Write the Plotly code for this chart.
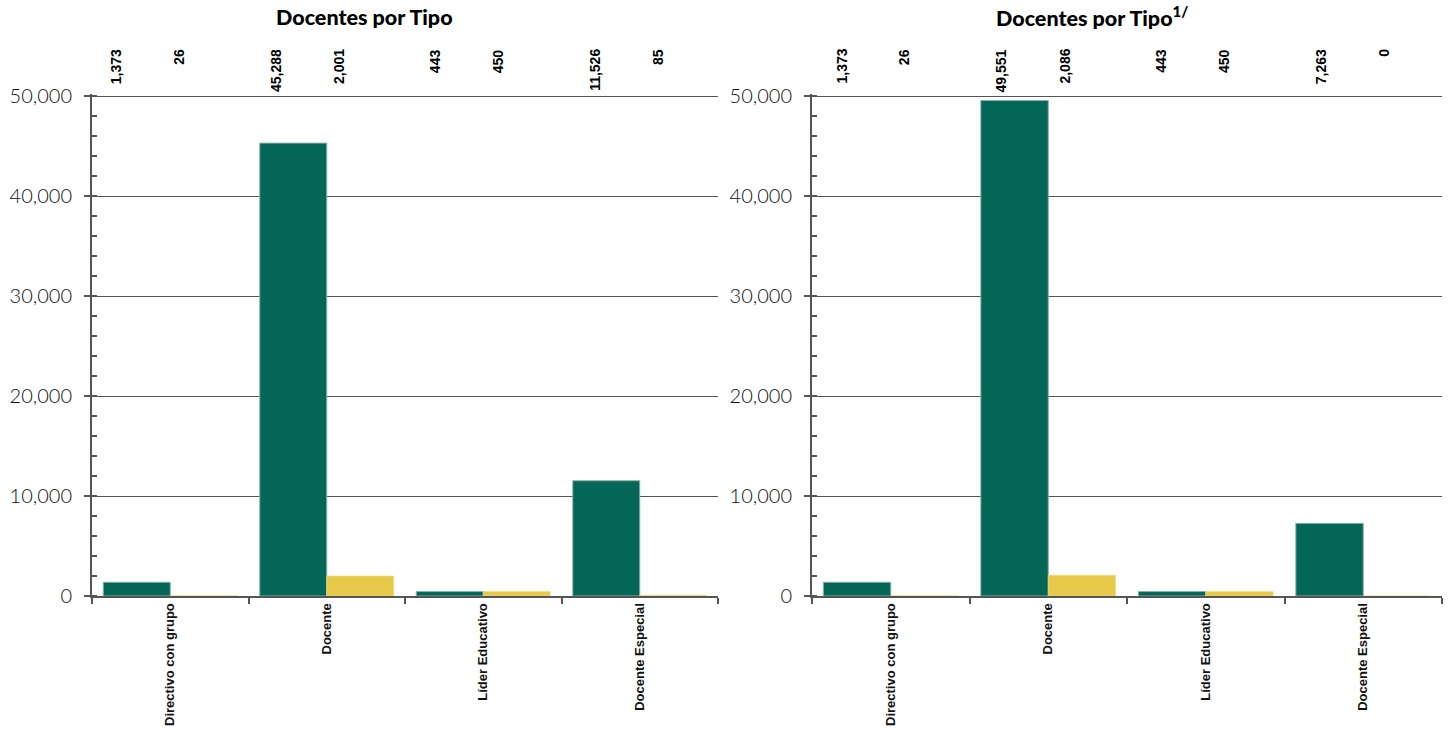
import plotly.graph_objects as go

categories = ["Directivo con grupo", "Docente", "Líder Educativo", "Docente Especial"]
left_green = [1373, 45288, 443, 11526]
left_yellow = [26, 2001, 450, 85]
right_green = [1373, 49551, 443, 7263]
right_yellow = [26, 2086, 450, 0]
y_ticks = [0, 10000, 20000, 30000, 40000, 50000]
titles = ["Docentes por Tipo", "Docentes por Tipo<sup>1/</sup>"]

GREEN = "#036656"
YELLOW = "#E8CA4B"
AXIS = "#555555"
W, H = 1456, 730
BARGAP = 0.144

def px_x(p):
    return p / W

def px_y(p):
    return (H - p) / H

fig = go.Figure()

panels = [
    ("x", "y", left_green, left_yellow),
    ("x2", "y2", right_green, right_yellow),
]
for xa, ya, g, yv in panels:
    fig.add_trace(go.Bar(x=categories, y=g, xaxis=xa, yaxis=ya, marker_color=GREEN,
                         marker_line=dict(color="#86b3a8", width=1), showlegend=False))
    fig.add_trace(go.Bar(x=categories, y=yv, xaxis=xa, yaxis=ya, marker_color=YELLOW,
                         marker_line=dict(color="#f0dc8c", width=0.6), showlegend=False))

xfont = dict(family="Liberation Sans, Arial, sans-serif", size=13, color="#111111", weight="bold")
yfont = dict(family="Lato, Roboto, sans-serif", size=20, color="#111111", weight=300)

common_x = dict(type="category", range=[-0.5, 3.5], showline=True, linecolor=AXIS, linewidth=2,
                ticks="outside", tickson="boundaries", ticklen=6, tickwidth=1.5, tickcolor=AXIS,
                tickangle=-90, tickfont=xfont, showgrid=False, automargin=False)
common_y = dict(range=[0, 50200], tickvals=y_ticks, tickformat=",", showgrid=True,
                gridcolor=AXIS, gridwidth=1, showline=True, linecolor=AXIS, linewidth=2,
                ticks="outside", ticklen=6, tickwidth=1.5, tickcolor=AXIS, zeroline=False,
                tickfont=yfont, ticklabelstandoff=8, automargin=False,
                minor=dict(dtick=2000, ticks="inside", ticklen=5, tickcolor=AXIS, tickwidth=1.5,
                           showgrid=False))

ydom = [px_y(596), px_y(94)]
fig.update_layout(
    width=W, height=H, margin=dict(l=0, r=0, t=0, b=0, autoexpand=False),
    paper_bgcolor="white", plot_bgcolor="white",
    barmode="group", bargap=BARGAP, bargroupgap=0,
    xaxis=dict(domain=[px_x(92), px_x(718)], anchor="y", **common_x),
    yaxis=dict(domain=ydom, anchor="x", **common_y),
    xaxis2=dict(domain=[px_x(812), px_x(1442)], anchor="y2", **common_x),
    yaxis2=dict(domain=ydom, anchor="x2", **common_y),
)

annotations = []
tfont = dict(family="Lato, Liberation Sans, Arial, sans-serif", size=21.5,
             color="#000000", weight=900)
for i, t in enumerate(titles):
    annotations.append(dict(text=t, xref="paper", yref="paper", x=0.25 + 0.5 * i, y=px_y(17),
                            xanchor="center", yanchor="middle", showarrow=False, font=tfont))

lfont = dict(family="Liberation Sans, Arial, sans-serif", size=14, color="#000000", weight="bold")
half = (1 - BARGAP) / 4
shift_start = [-23, -18]
shift_step = [1.6, 1.2]
series_shift = {-1: 2, 1: -3.5}
for p, (xa, ya, g, yv) in enumerate(panels):
    k = 0
    for i in range(len(categories)):
        for sign, val in ((-1, g[i]), (1, yv[i])):
            annotations.append(dict(text=f"{val:,}", xref=xa, yref="paper", x=i + sign * half,
                                    y=px_y(47), xanchor="center", yanchor="top", textangle=-90,
                                    showarrow=False, font=lfont,
                                    xshift=shift_start[p] + shift_step[p] * k + series_shift[sign]))
            k += 1

fig.update_layout(annotations=annotations)
fig.write_html("out.html", config={"displayModeBar": False},
               post_script="document.body.style.margin='0';document.body.style.padding='0';")
